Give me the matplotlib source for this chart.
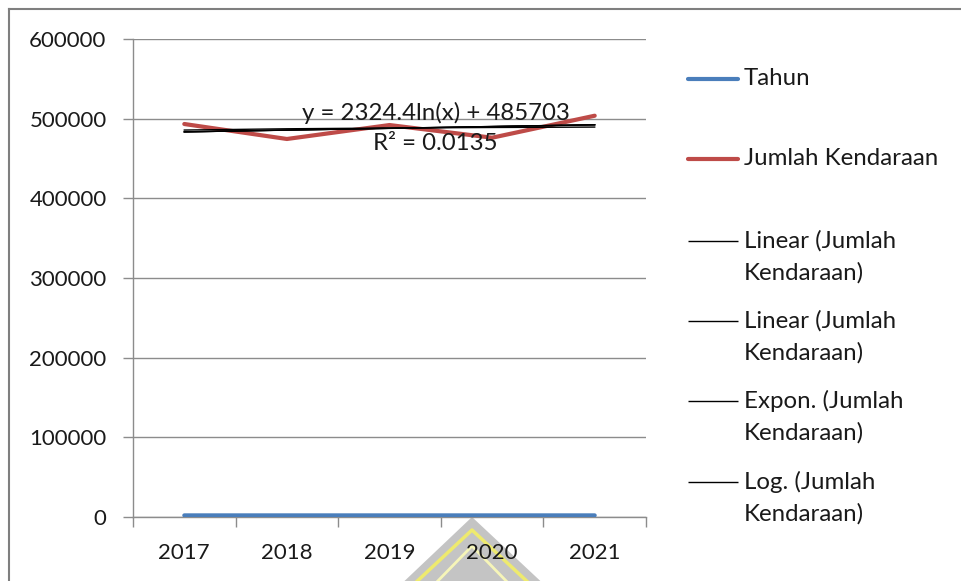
import numpy as np
import matplotlib
matplotlib.use("Agg")
import matplotlib.pyplot as plt
from matplotlib.lines import Line2D
from matplotlib.patches import Polygon

plt.rcParams['font.family'] = ['Lato', 'DejaVu Sans']

# Data
years = ['2017', '2018', '2019', '2020', '2021']
tahun = [2017, 2018, 2019, 2020, 2021]
jumlah_kendaraan = [493300, 474500, 492000, 476100, 503700]

# Logarithmic trendline coefficients (as shown in the equation label)
log_slope = 2324.4
log_intercept = 485703
log_r2 = 0.0135

legend_labels = ['Tahun', 'Jumlah Kendaraan',
                 'Linear (Jumlah\nKendaraan)', 'Linear (Jumlah\nKendaraan)',
                 'Expon. (Jumlah\nKendaraan)', 'Log. (Jumlah\nKendaraan)']

W, H = 961, 581
FS = 16
FS_TEXT = 17.3
TXT = '#1a1a1a'
fig = plt.figure(figsize=(W / 100, H / 100), dpi=100)


def fx(px):
    return px / W


def fy(py):
    return 1 - py / H


# Decorative watermark behind the chart
wm = fig.add_axes([0, 0, 1, 1], zorder=0)
wm.set_xlim(0, W)
wm.set_ylim(H, 0)
wm.axis('off')
wm.add_patch(Polygon([(472, 517), (395, 590), (550, 590)], closed=True,
                     facecolor='#c4c4c4', edgecolor='none'))
wm.plot([472 - 60, 472, 472 + 60], [581 + 5, 530, 581 + 5], color='#eeea6e', lw=2.5)
wm.plot([472 - 44, 472, 472 + 44], [581 + 10, 546, 581 + 10], color='#f6f5b8', lw=2)

ax = fig.add_axes([fx(133), fy(517), fx(646) - fx(133), (517 - 39) / H], zorder=2)
ax.patch.set_alpha(0)

x = np.arange(len(years))
xf = x + 1  # trendline x values (1..n)

ax.plot(x, tahun, color='#4A7EBB', lw=3.0, solid_capstyle='round', zorder=4)
ax.plot(x, jumlah_kendaraan, color='#BE4B48', lw=3.0, solid_capstyle='round', zorder=4)

y_arr = np.array(jumlah_kendaraan, dtype=float)
lin = np.polyfit(xf, y_arr, 1)
lin_y = np.polyval(lin, xf)
exp_c = np.polyfit(xf, np.log(y_arr), 1)
exp_y = np.exp(np.polyval(exp_c, xf))
log_y = log_slope * np.log(xf) + log_intercept

for ty in (lin_y, lin_y, exp_y, log_y):
    ax.plot(x, ty, color='black', lw=1.0, zorder=5)

ax.text(2.45, 507500, f"y = {log_slope}ln(x) + {log_intercept}",
        ha='center', va='center', fontsize=FS_TEXT, color=TXT, zorder=6)
ax.text(2.45, 469000, f"R² = {log_r2}",
        ha='center', va='center', fontsize=FS_TEXT, color=TXT, zorder=6)

ax.set_xlim(-0.5, len(years) - 0.5)
ax.set_ylim(0, 600000)
ax.set_yticks(np.arange(0, 600001, 100000))
ax.set_yticklabels([str(v) for v in range(0, 600001, 100000)])
ax.yaxis.grid(True, color='#8c8c8c', lw=1.0)
ax.set_axisbelow(True)

ax.set_xticks(x)
ax.set_xticklabels(years)
ax.set_xticks(np.arange(-0.5, len(years)), minor=True)
ax.tick_params(axis='x', which='major', length=0, pad=19, labelsize=FS, colors=TXT)
ax.tick_params(axis='x', which='minor', length=7, width=1.0, color='#8c8c8c', direction='out')
ax.tick_params(axis='y', which='major', length=7, width=1.0, color='#8c8c8c', pad=12,
               labelsize=FS, labelcolor=TXT)

for s in ('top', 'right'):
    ax.spines[s].set_visible(False)
for s in ('left', 'bottom'):
    ax.spines[s].set_color('#8c8c8c')
    ax.spines[s].set_linewidth(1.0)

# Legend
leg_colors = ['#4A7EBB', '#BE4B48', 'black', 'black', 'black', 'black']
leg_widths = [3.0, 3.0, 1.0, 1.0, 1.0, 1.0]
leg_y = [79, 159, 241, 321, 401, 482]
for lab, c, lw, py in zip(legend_labels, leg_colors, leg_widths, leg_y):
    fig.add_artist(Line2D([fx(688), fx(738)], [fy(py), fy(py)], color=c, lw=lw,
                          solid_capstyle='round' if lw > 2 else 'butt'))
    fig.text(fx(744), fy(py - 11), lab, ha='left', va='top', fontsize=FS_TEXT,
             color=TXT, linespacing=1.58)

# Chart frame
fig.add_artist(Line2D([fx(9), fx(9)], [fy(9), 0], color='#7f7f7f', lw=1.5))
fig.add_artist(Line2D([fx(9), 1], [fy(9), fy(9)], color='#7f7f7f', lw=1.5))

fig.savefig('out.png', dpi=100)
